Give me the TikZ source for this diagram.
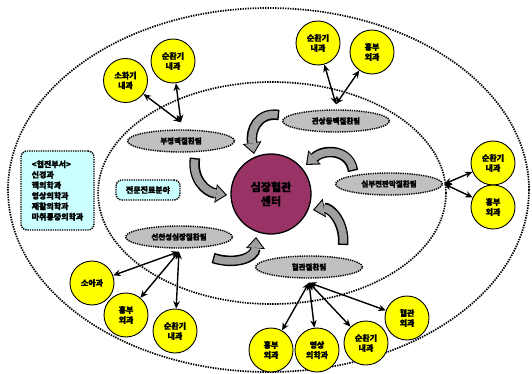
\documentclass[tikz,border=0pt]{standalone}
\usepackage{fontspec}
\setmainfont{Noto Sans CJK KR}[BoldFeatures={FakeBold=1.2}]
\usetikzlibrary{arrows.meta, shapes.geometric, positioning}
\definecolor{DeptYellow}{HTML}{FFFF00}
\definecolor{TeamGray}{HTML}{C0C0C0}
\definecolor{CenterPlum}{HTML}{993366}
\definecolor{NoteCyan}{HTML}{CCFFFF}
\definecolor{FlowGray}{HTML}{A0A0A0}

\begin{document}
\begin{tikzpicture}[x=1pt, y=-1pt, font=\bfseries,
    dept/.style={circle, draw, line width=0.9pt, fill=DeptYellow, minimum size=44pt, inner sep=0pt, align=center, font=\bfseries\fontsize{8}{10}\selectfont},
    team/.style={ellipse, draw, line width=1.4pt, dash pattern=on 1.3pt off 1pt, fill=TeamGray, minimum width=107pt, minimum height=22pt, inner sep=0pt, font=\bfseries\fontsize{7.5}{9}\selectfont},
    note/.style={rectangle, rounded corners=6pt, draw, line width=1.4pt, dash pattern=on 1.3pt off 1pt, fill=NoteCyan, inner sep=2pt, font=\bfseries\fontsize{8}{10.5}\selectfont},
    ring/.style={draw, line width=1.7pt, dash pattern=on 1.4pt off 1.1pt},
    link/.style={{Stealth[length=7.5pt,width=6.5pt]}-{Stealth[length=7.5pt,width=6.5pt]}, line width=1.4pt},
    flowrim/.style={line width=10.5pt, -{Triangle[width=19pt,length=11.5pt,line width=0pt]}},
    flowbody/.style={line width=7.5pt, draw=FlowGray, shorten >=1.7pt, shorten <=1.4pt, -{Triangle[width=15pt,length=9pt,line width=0pt]}}]

    \useasboundingbox (0,0) rectangle (532,374);

    % rings
    \draw[ring] (268.5,190) ellipse [x radius=260.5, y radius=182];
    \draw[ring] (272,193) ellipse [x radius=174, y radius=111];

    % center
    \node[circle, draw, line width=1.3pt, fill=CenterPlum, minimum size=80pt, align=center, font=\bfseries\fontsize{11}{14}\selectfont] (heart) at (271,194) {심장혈관\\센터};

    % teams
    \node[team] (arrhythmia) at (181,141) {부정맥질환팀};
    \node[team] (coronary) at (336,121) {관상동맥질환팀};
    \node[team] (failure) at (389,184) {심부전판막질환팀};
    \node[team] (congenital) at (179,237) {선천성심장질환팀};
    \node[team] (vascular) at (309,267) {혈관질환팀};

    % notes
    \node[note, minimum width=64pt, minimum height=20pt] (field) at (148,190) {전문진료분야};
    \node[note, align=left, minimum width=73pt, minimum height=79pt] (partner) at (57.5,190.5) {<협진부서>\\신경과\\핵의학과\\영상의학과\\재활의학과\\마취통증의학과};

    % departments
    \node[dept] (arrGI) at (125.5,80.5) {소화기\\내과};
    \node[dept] (arrCard) at (173,61) {순환기\\내과};
    \node[dept] (corCard) at (318,43) {순환기\\내과};
    \node[dept] (corThor) at (372,52) {흉부\\외과};
    \node[dept] (failCard) at (493,163) {순환기\\내과};
    \node[dept] (failThor) at (493,207) {흉부\\외과};
    \node[dept] (conPed) at (92,283) {소아과};
    \node[dept] (conThor) at (126,315) {흉부\\외과};
    \node[dept] (conCard) at (175,331) {순환기\\내과};
    \node[dept] (vasThor) at (271,350) {흉부\\외과};
    \node[dept] (vasRad) at (317,350) {영상\\의학과};
    \node[dept] (vasCard) at (366,343) {순환기\\내과};
    \node[dept] (vasSurg) at (407,318) {혈관\\외과};

    % hubs
    \coordinate (arrHub) at ([yshift=7pt]arrhythmia.north);
    \coordinate (corHub) at ([yshift=5pt]coronary.north);
    \coordinate (failHub) at ([xshift=1pt]failure.east);
    \coordinate (conHub) at ([yshift=-3pt]congenital.south);
    \coordinate (vasHub) at ([yshift=-4pt]vascular.south);

    \draw[link] (arrHub) -- (arrGI);
    \draw[link] (arrHub) -- (arrCard);
    \draw[link] (corHub) -- (corCard);
    \draw[link] (corHub) -- (corThor);
    \draw[link] (failHub) -- (failCard);
    \draw[link] (failHub) -- (failThor);
    \draw[link] (conHub) -- (conPed);
    \draw[link] (conHub) -- (conThor);
    \draw[link] (conHub) -- (conCard);
    \draw[link] (vasHub) -- (vasThor);
    \draw[link] (vasHub) -- (vasRad);
    \draw[link] (vasHub) -- (vasCard);
    \draw[link] (vasHub) -- (vasSurg);

    % flow arrows
    \draw[flowrim] (195,158) .. controls (192,178) and (205,192) .. (227,195);
    \draw[flowbody] (195,158) .. controls (192,178) and (205,192) .. (227,195);
    \draw[flowrim] (279,115) .. controls (258,112) and (250,130) .. (254,154);
    \draw[flowbody] (279,115) .. controls (258,112) and (250,130) .. (254,154);
    \draw[flowrim] (353,171) .. controls (350,150) and (325,148) .. (306,165);
    \draw[flowbody] (353,171) .. controls (350,150) and (325,148) .. (306,165);
    \draw[flowrim] (343,245) .. controls (345,222) and (330,207) .. (313,210);
    \draw[flowbody] (343,245) .. controls (345,222) and (330,207) .. (313,210);
    \draw[flowrim] (213,258) .. controls (235,265) and (255,258) .. (256,237);
    \draw[flowbody] (213,258) .. controls (235,265) and (255,258) .. (256,237);

\end{tikzpicture}
\end{document}
